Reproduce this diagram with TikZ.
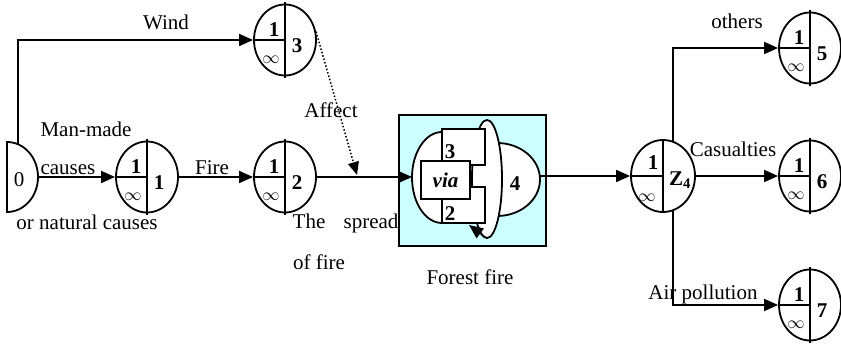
\documentclass[tikz,border=0pt]{standalone}
\usepackage{fontspec}
\setmainfont{Liberation Serif}
\usepackage{tikz}
\usetikzlibrary{arrows.meta,calc,positioning,shapes.geometric}
\definecolor{firecyan}{HTML}{CCFFFF}
\tikzset{
  link/.style={black, line width=1.8pt, -{Triangle[length=14pt,width=12pt]}},
  plainline/.style={black, line width=1.8pt},
  affectline/.style={black, line width=1.5pt, dotted, -{Triangle[length=13pt,width=11pt]}},
  eventnode/.style={draw, ellipse, line width=1.8pt, fill=white, minimum width=62pt, minimum height=71pt, inner sep=0pt},
  firebox/.style={draw, line width=1.8pt, fill=firecyan, minimum width=147pt, minimum height=131pt, inner sep=0pt},
  viabox/.style={draw, line width=1.8pt, fill=white, minimum width=49pt, minimum height=38pt, inner sep=0pt, font=\fontsize{21}{23}\selectfont\bfseries\itshape},
  numtxt/.style={inner sep=0pt, font=\fontsize{21}{23}\selectfont\bfseries},
  inftxt/.style={inner sep=0pt, font=\fontsize{16}{16}\selectfont},
  lbl/.style={inner sep=0pt, anchor=base, font=\fontsize{21}{24}\selectfont}
}
\begin{document}
\begin{tikzpicture}[x=1pt,y=1pt]
  \useasboundingbox (0,0) rectangle (841,-344);
  \foreach \nm/\px/\py/\lab in {n1/147/177/1,n2/285/177/2,n3/285/40/3,n5/810/48/5,n6/810/176/6,n7/810/305/7}{
    \node[eventnode] (\nm) at (\px,-\py) {};
    \draw[plainline] ([yshift=2pt]\nm.north) -- ([yshift=-2pt]\nm.south);
    \draw[plainline] (\nm.west) -- (\nm.center);
    \node[numtxt] (\nm-top) at ([shift={(-11pt,10pt)}]\nm.center) {1};
    \node[numtxt] (\nm-id) at ([shift={(12pt,-6pt)}]\nm.center) {\lab};
    \node[inftxt] (\nm-inf) at ([shift={(-14pt,-20pt)}]\nm.center) {$\infty$};
  }
  \node[eventnode, minimum width=64pt, minimum height=72pt] (nz) at (663,-176) {};
  \draw[plainline] (nz.north) -- (nz.south);
  \draw[plainline] (nz.west) -- (nz.center);
  \node[numtxt] (nz-top) at ([shift={(-10pt,13pt)}]nz.center) {1};
  \node[numtxt, anchor=west] (nz-id) at ([shift={(6pt,-4pt)}]nz.center) {Z\textsubscript{4}};
  \node[inftxt] (nz-inf) at ([shift={(-16pt,-22pt)}]nz.center) {$\infty$};
  \draw[plainline] (7,-142) arc[start angle=90,end angle=-90,x radius=31,y radius=35] -- cycle;
  \node[lbl] (n0) at (19,-187) {0};
  \coordinate (n0-out) at (38,-177);
  \coordinate (n0-up) at (18,-144);
  \node[firebox] (ff) at (472.5,-180.5) {};
  \filldraw[plainline, fill=white] (442,-132) arc[start angle=90,end angle=270,x radius=30,y radius=45.5] -- cycle;
  \filldraw[plainline, fill=white] (497,-143) arc[start angle=90,end angle=-90,x radius=43,y radius=36.5] -- cycle;
  \filldraw[plainline, fill=white] (487,-179) ellipse[x radius=15,y radius=59];
  \filldraw[plainline, fill=white] (442,-129) -- (485,-129) -- (485,-165) -- (470,-165) -- (470,-187) -- (485,-187) -- (485,-223) -- (442,-223) -- cycle;
  \node[viabox] (via) at (445.5,-180) {via};
  \node[numtxt] (ff3) at (450,-152) {3};
  \node[numtxt] (ff2) at (450,-214) {2};
  \node[numtxt] (ff4) at (515,-184) {4};
  \draw[link, line width=1.3pt] (485,-237) -- (469,-225);
  \coordinate (ff-in) at (412,-177);
  \coordinate (ff-out) at (540,-176);
  \coordinate (spread) at (357,-175);
  \draw[link] (n0-out) -- (n1.west);
  \draw[link] (n0-up) |- (n3.west);
  \draw[link] (n1.east) -- (n2.west);
  \draw[link] (n2.east) -- (ff-in);
  \draw[affectline] (n3.15) -- (spread);
  \draw[link] (ff-out) -- (nz.west);
  \draw[link] (nz.74) |- (n5.west);
  \draw[link] (nz.east) -- (n6.west);
  \draw[link] (nz.-74) |- (n7.west);
  \node[lbl] (wind) at (166,-30) {Wind};
  \node[lbl] (manmade) at (86,-137) {Man-made};
  \node[lbl] (causes) at (68,-175) {causes};
  \node[lbl] (natural) at (87,-230) {or natural causes};
  \node[lbl] (fire) at (212,-175) {Fire};
  \node[lbl] (affect) at (331,-118) {Affect};
  \node[lbl] (the) at (309,-229) {The};
  \node[lbl] (spreadtxt) at (371,-229) {spread};
  \node[lbl] (offire) at (319,-270) {of fire};
  \node[lbl] (forest) at (470,-285) {Forest fire};
  \node[lbl] (others) at (737,-29) {others};
  \node[lbl] (casualties) at (733,-157) {Casualties};
  \node[lbl] (airpol) at (703,-300) {Air pollution};
\end{tikzpicture}
\end{document}
